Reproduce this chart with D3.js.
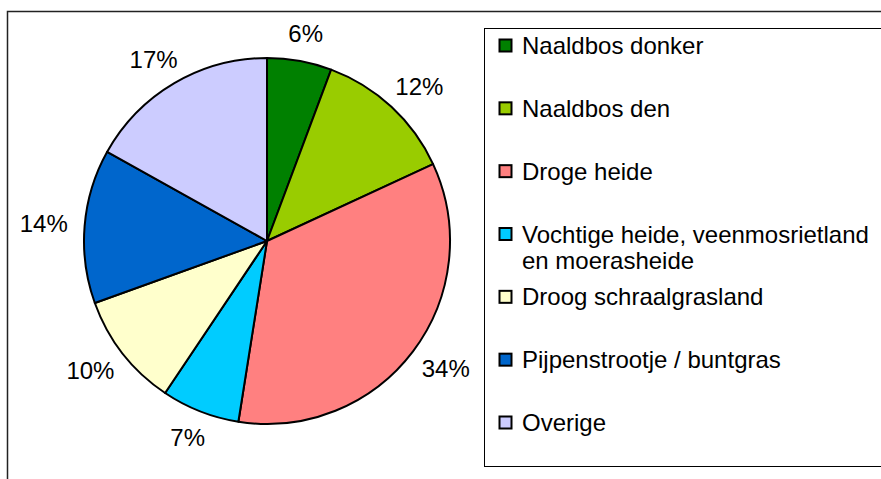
<!DOCTYPE html>
<meta charset="utf-8">
<head>
  <meta charset="utf-8">
  <title>Pie chart vegetatietypen</title>
</head>
<style>
body { margin: 0; background: #fff; }
svg { display: block; font-family: 'Liberation Sans', Arial, sans-serif; }
</style>
<body>
<div id="chart"></div>

<script src="https://d3js.org/d3.v7.min.js"></script>
<script>

// data
var categories = ["Naaldbos donker", "Naaldbos den", "Droge heide",
  "Vochtige heide, veenmosrietland en moerasheide", "Droog schraalgrasland",
  "Pijpenstrootje / buntgras", "Overige"]
var values = [5.7, 12.4, 34.4, 6.9, 10.1, 13.6, 16.9]
var colors = ["#008000", "#99cc00", "#ff8080", "#00ccff", "#ffffcc", "#0066cc", "#ccccff"]
// legend lines (long name wraps over two lines)
var legendLines = [["Naaldbos donker"], ["Naaldbos den"], ["Droge heide"],
  ["Vochtige heide, veenmosrietland", "en moerasheide"], ["Droog schraalgrasland"],
  ["Pijpenstrootje / buntgras"], ["Overige"]]

var width = 881
var height = 479
var cx = 267, cy = 241, radius = 183

var svg = d3.select('#chart').append('svg')
    .attr('width', width)
    .attr('height', height)

// outer chart frame (runs off the right and bottom edge)
svg.append('rect')
    .attr('x', 7.5).attr('y', 11.5)
    .attr('width', 900).attr('height', 500)
    .attr('fill', 'none')
    .attr('stroke', '#222')
    .attr('stroke-width', 1.5)

var data = categories.map(function (c, i) {
  return { name: c, value: values[i], color: colors[i], lines: legendLines[i] }
})

var pie = d3.pie().sort(null).value(function (d) { return d.value })
var arc = d3.arc().innerRadius(0).outerRadius(radius)
var arcs = pie(data)

var g = svg.append('g').attr('transform', 'translate(' + cx + ',' + cy + ')')

g.selectAll('.slice')
    .data(arcs)
    .enter().append('path')
    .attr('class', 'slice')
    .attr('d', arc)
    .attr('fill', function (d) { return d.data.color })
    .attr('stroke', '#000')
    .attr('stroke-width', 2)
    .attr('stroke-linejoin', 'round')

// percentage labels outside the pie
var fontSize = 24
var gap = 17
g.selectAll('.pct')
    .data(arcs)
    .enter().append('text')
    .attr('class', 'pct')
    .attr('font-size', fontSize)
    .attr('text-anchor', 'middle')
    .attr('dominant-baseline', 'central')
    .text(function (d) { return Math.round(d.data.value) + '%' })
    .each(function (d) {
      var a = (d.startAngle + d.endAngle) / 2
      var dx = Math.sin(a), dy = -Math.cos(a)
      var w = this.getComputedTextLength()
      var h = fontSize * 0.9
      d3.select(this)
        .attr('x', dx * (radius + gap) + dx * w / 2)
        .attr('y', dy * (radius + gap) + dy * h / 2)
    })

// legend
var legend = svg.append('g')
legend.append('rect')
    .attr('x', 484.5).attr('y', 28.5)
    .attr('width', 420).attr('height', 438)
    .attr('fill', '#fff')
    .attr('stroke', '#000')
    .attr('stroke-width', 1)

var legendY = d3.scalePoint()
    .domain(categories)
    .range([46, 423])

var items = legend.selectAll('.item')
    .data(data)
    .enter().append('g')
    .attr('class', 'item')
    .attr('transform', function (d) { return 'translate(0,' + legendY(d.name) + ')' })

items.append('rect')
    .attr('x', 499.5).attr('y', -6.5)
    .attr('width', 12).attr('height', 12)
    .attr('fill', function (d) { return d.color })
    .attr('stroke', '#000')
    .attr('stroke-width', 2)

items.append('text')
    .attr('x', 522)
    .attr('font-size', fontSize)
    .selectAll('tspan')
    .data(function (d) { return d.lines })
    .enter().append('tspan')
    .attr('x', 522)
    .attr('y', function (d, i) { return 8 + i * 26 })
    .text(function (d) { return d })

</script>
</body>
